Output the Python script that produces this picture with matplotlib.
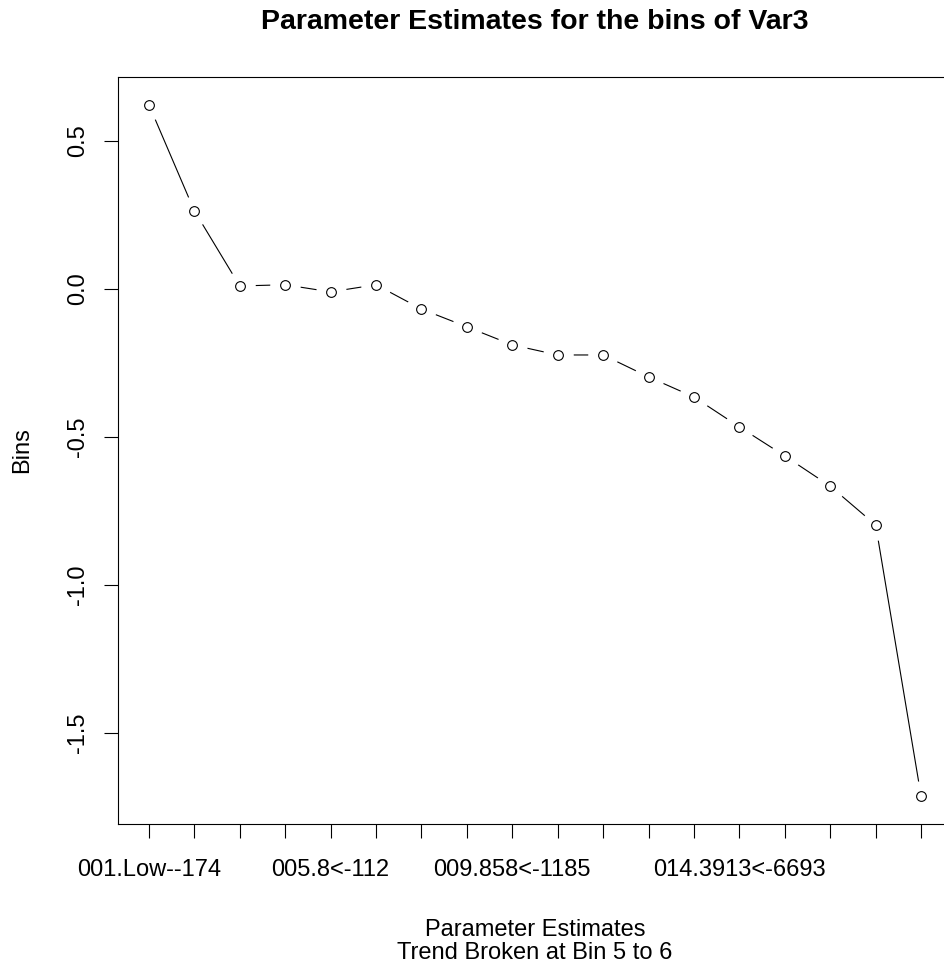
import matplotlib
matplotlib.use("Agg")
import matplotlib.pyplot as plt
import numpy as np

plt.rcParams['font.family'] = ['Liberation Sans', 'DejaVu Sans']

bins = list(range(1, 19))
estimates = [0.622, 0.264, 0.010, 0.014, -0.010, 0.014, -0.068, -0.128, -0.189,
             -0.223, -0.223, -0.297, -0.365, -0.466, -0.564, -0.666, -0.797, -1.713]
tick_labels = ["001.Low--174", "", "", "", "005.8<-112", "", "", "", "009.858<-1185",
               "", "", "", "", "014.3913<-6693", "", "", "", ""]
y_ticks = [-1.5, -1.0, -0.5, 0.0, 0.5]

fig = plt.figure(figsize=(9.45, 9.76), dpi=100)
ax = fig.add_axes([118/945, 1-824/976, (952-118)/945, (824-77)/976])

ax.plot(bins, estimates, color='black', lw=0.8, zorder=1)
ax.plot(bins, estimates, ls='none', marker='o', ms=22, mfc='white', mec='none', zorder=2)
ax.plot(bins, estimates, ls='none', marker='o', ms=7, mfc='white', mec='black', mew=0.8, zorder=3)

rng = max(estimates) - min(estimates)
ax.set_ylim(min(estimates) - 0.04*rng, max(estimates) + 0.04*rng)
ax.set_xlim(1 - 0.04*17, 18 + 0.04*17)

ax.set_xticks(bins)
ax.set_xticklabels(tick_labels, fontsize=17)
ax.set_yticks(y_ticks)
ax.set_yticklabels([f"{v:.1f}" for v in y_ticks], fontsize=17, rotation=90, va='center')
ax.tick_params(axis='both', direction='out', length=10, width=0.8, color='black')
ax.tick_params(axis='x', pad=15)
ax.tick_params(axis='y', pad=11)
for s in ax.spines.values():
    s.set_linewidth(0.8)

fig.text(535/945, 1-29/976, "Parameter Estimates for the bins of Var3",
         fontsize=20.5, fontweight='bold', ha='center', va='baseline')
ax.set_xlabel("Parameter Estimates\nTrend Broken at Bin 5 to 6", fontsize=17, linespacing=1.1)
ax.xaxis.set_label_coords(0.5, (824-918.5)/747)
ax.set_ylabel("Bins", fontsize=17)
ax.yaxis.set_label_coords((33-118)/834, 0.5)

fig.savefig("out.png", dpi=100)
